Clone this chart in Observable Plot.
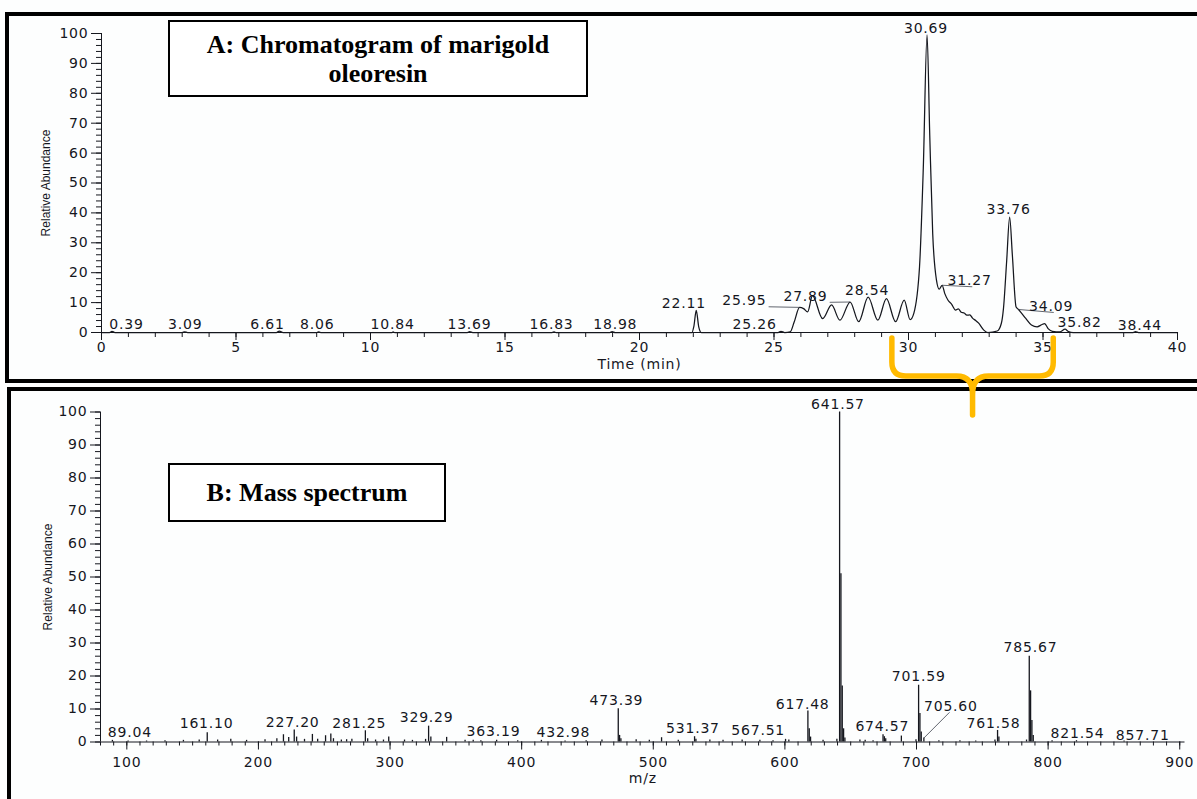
<!DOCTYPE html>
<html><head><meta charset="utf-8">
<script src="https://cdn.jsdelivr.net/npm/d3@7"></script>
<script src="https://cdn.jsdelivr.net/npm/@observablehq/plot@0.6"></script>
<style>
html,body{margin:0;padding:0;background:#fff;overflow:hidden;}
#page{position:relative;width:1197px;height:799px;overflow:hidden;background:#fdfefe;}
#page svg{position:absolute;left:0;overflow:visible;}
.frame{position:absolute;border:4px solid #000;border-right:none;box-sizing:border-box;}
.title{position:absolute;border:2px solid #000;box-sizing:border-box;background:#fff;font-family:"Liberation Serif",serif;font-weight:bold;font-size:26px;line-height:29px;text-align:center;display:flex;align-items:center;justify-content:center;color:#000;}
text[transform*="rotate"]{letter-spacing:0;}
</style></head>
<body><div id="page"></div>
<script>
// ---------- Panel A: chromatogram ----------
const chromTime = [0,0.3,0.39,0.5,3.0,3.09,3.2,6.5,6.61,6.75,8.0,8.06,8.15,10.8,10.84,10.9,13.6,13.69,13.8,16.75,16.83,16.9,18.9,18.98,19.1,21.95,22.02,22.11,22.2,22.3,23.5,25.15,25.26,25.4,25.6,25.75,25.95,26.1,26.25,26.43,26.81,27.14,27.45,27.83,28.15,28.5,28.86,29.18,29.52,29.84,30.06,30.2,30.41,30.55,30.69,30.79,30.9,31.04,31.14,31.25,31.35,31.47,31.6,31.75,31.85,31.96,32.07,32.17,32.28,32.38,32.5,32.6,32.8,32.95,33.3,33.45,33.53,33.65,33.76,33.86,34.0,34.09,34.2,34.36,34.57,34.78,34.95,35.06,35.2,35.35,35.63,35.82,35.95,36.12,38.35,38.44,38.55,40];
const chromAbundance = [0,0,0.4,0,0,0.2,0,0,0.5,0,0,0.2,0,0,0.2,0,0,0.3,0,0,0.2,0,0,0.3,0,0,2,7.4,2,0,0,0,0.4,0,0.2,3.5,8.4,8.0,6.9,12.3,4.6,9.2,4.1,10.2,3.6,11.8,4.1,11.3,3.6,10.8,4.3,6.5,22,55,99.5,66,33,17.5,14.5,15.8,13,10.8,9.5,7.5,7.9,6.8,6.5,5.8,5.9,4.8,4.0,3.2,0.8,0,0.5,3,8,24,38.6,26,8.5,7.7,6.5,4.7,2.5,1.9,2.6,3.0,1.2,0.4,0.2,1.1,0.3,0,0,0.3,0,0];
const chromLabels = ["0.39","3.09","6.61","8.06","10.84","13.69","16.83","18.98","22.11","25.95","25.26","27.89","28.54","30.69","31.27","33.76","34.09","35.82","38.44"];
const chromLabelTime = [0.93,3.11,6.17,8.02,10.82,13.68,16.73,19.1,21.65,23.9,24.28,26.17,28.46,30.65,32.27,33.72,35.3,36.36,38.6];
const chromLabelAbundance = [2.7,2.7,2.7,2.7,2.7,2.7,2.7,2.7,9.7,10.7,2.7,12.2,14.0,101.8,17.4,41.1,8.8,3.3,2.2];
const chromLeaderLabels = ["25.95","27.89","31.27","34.09"];
const timeTicks = [0,5,10,15,20,25,30,35,40];
const abundanceTicks = [0,10,20,30,40,50,60,70,80,90,100];
const bracketRange = [29.4, 35.4];

// ---------- Panel B: mass spectrum ----------
const specMz = [89.04,101,115,129,143,155,161.10,169,179,191,205,214,219,223,227.20,229,235,241,245,251,255,257,263,267,271,281.25,283,289,295,299,311,317,327,329.29,331,343,357,363.19,369,381,397,415,432.98,449,461,473.39,474.4,475.4,487,497,506.3,519,531.37,532.4,543,553,567.51,581,591,600.5,603,617.48,618.5,619.5,629,639.5,641.57,642.58,643.58,644.6,645.6,657,661,667,674.57,675.6,676.6,688.5,699.6,701.59,702.6,703.6,705.60,717,733,745,759.6,761.58,762.6,783.6,785.67,786.68,787.68,788.7,803,821.54,857.71];
const specAbundance = [0.5,0.3,0.3,0.4,0.5,0.6,2.8,0.6,0.8,0.5,0.7,1.0,2.2,1.4,3.6,1.5,0.8,2.3,0.8,1.9,2.4,1.0,0.6,0.7,0.8,3.4,1.0,0.6,0.6,1.5,0.6,0.5,0.8,4.8,1.5,1.4,0.5,0.5,0.4,0.5,0.4,0.5,0.3,0.4,0.6,10.1,2,1,0.7,0.5,1.3,0.5,1.6,0.8,0.6,0.5,0.6,0.5,0.4,0.8,0.6,9.4,4,1.5,0.5,0.8,100,51,17,4,1.2,0.6,0.5,0.4,2.2,1.6,1.0,1.8,0.7,17.2,8.6,3,1.2,0.4,0.4,0.3,0.6,3.5,1.5,0.6,26,15.5,6.5,2,0.4,0.4,0.3];
const specLabels = ["89.04","161.10","227.20","281.25","329.29","363.19","432.98","473.39","531.37","567.51","617.48","641.57","674.57","701.59","705.60","761.58","785.67","821.54","857.71"];
const specLabelMz = [102.3,160.6,226,276.6,327.8,378.6,431.7,472,530.1,579.7,613.5,640.3,674,701.7,726.1,758.5,786.6,822.3,871.9];
const specLabelAbundance = [2.9,5.6,5.9,5.6,7.4,3.2,2.9,12.6,4.1,3.5,11.4,102.3,4.7,19.8,10.8,5.6,28.6,2.6,2.0];
const specLeaderLabels = ["705.60"];
const mzTicks = [100,200,300,400,500,600,700,800,900];

const ink = "#15171e";
const baseStyle = {fontFamily: "DejaVu Sans", fontSize: "14px", letterSpacing: "0.8px", color: ink, background: "transparent", overflow: "visible"};

const chrom = chromTime.map((t, i) => ({t, a: chromAbundance[i]}));
const chromLab = chromLabels.map((s, i) => ({s, t: chromLabelTime[i], a: chromLabelAbundance[i]}));
const chromLeaders = chromLeaderLabels.map(L => {
  const i = chromLabels.indexOf(L);
  const rt = +L;
  const j = d3.minIndex(chromTime, t => Math.abs(t - rt));
  const left = chromLabelTime[i] < rt;
  return {
    x1: chromTime[j], y1: chromAbundance[j],
    x2: left ? chromLabelTime[i] + 0.9 : chromLabelTime[i] + 0.1,
    y2: left ? chromLabelAbundance[i] - 2.1 : chromLabelAbundance[i] - 2.1
  };
});

const plotA = Plot.plot({
  width: 1197, height: 380,
  marginLeft: 101, marginRight: 20, marginTop: 33, marginBottom: 48,
  x: {domain: [0, 40]},
  y: {domain: [0, 100]},
  style: baseStyle,
  marks: [
    Plot.axisY(d3.range(0, 101, 2), {tickSize: 5, tickFormat: () => "", label: null}),
    Plot.axisY(abundanceTicks, {tickSize: 10, tickPadding: 3, label: null}),
    Plot.axisX(d3.range(0, 41, 1), {tickSize: 5, tickFormat: () => "", label: null}),
    Plot.axisX(timeTicks, {tickSize: 8, tickPadding: 2, label: null}),
    Plot.ruleX([0], {y1: 0, y2: 100, stroke: ink}),
    Plot.ruleY([0], {stroke: ink}),
    Plot.line(chrom, {x: "t", y: "a", stroke: ink, strokeWidth: 1.25, curve: "monotone-x"}),
    Plot.link(chromLeaders, {x1: "x1", y1: "y1", x2: "x2", y2: "y2", stroke: "#3a3f4a", strokeWidth: 0.8}),
    Plot.text(chromLab, {x: "t", y: "a", text: "s", fill: ink}),
    Plot.text(["Time (min)"], {frameAnchor: "bottom", dy: 32, text: d => d, textAnchor: "middle", lineAnchor: "middle", fill: ink}),
    Plot.text(["Relative Abundance"], {frameAnchor: "left", dx: -55, rotate: -90, text: d => d, textAnchor: "middle", lineAnchor: "middle", fontSize: 12, fontFamily: "Liberation Sans", fill: ink})
  ]
});

const spec = specMz.map((m, i) => ({m, a: specAbundance[i]}));
const specLab = specLabels.map((s, i) => ({s, m: specLabelMz[i], a: specLabelAbundance[i]}));
const specLeaders = specLeaderLabels.map(L => {
  const i = specLabels.indexOf(L);
  const j = specMz.indexOf(+L);
  return {x1: specMz[j], y1: specAbundance[j], x2: specLabelMz[i] - 1, y2: specLabelAbundance[i] - 1.8};
});

const plotB = Plot.plot({
  width: 1197, height: 411,
  marginLeft: 100, marginRight: 12.5, marginTop: 23.5, marginBottom: 57.5,
  x: {domain: [80, 904]},
  y: {domain: [0, 100]},
  style: baseStyle,
  marks: [
    Plot.axisY(d3.range(0, 101, 2), {tickSize: 5, tickFormat: () => "", label: null}),
    Plot.axisY(abundanceTicks, {tickSize: 10, tickPadding: 3, label: null}),
    Plot.axisX(d3.range(80, 901, 10), {tickSize: 4, tickFormat: () => "", label: null}),
    Plot.axisX(mzTicks, {tickSize: 8, tickPadding: 7, label: null}),
    Plot.ruleX([80], {y1: 0, y2: 100, stroke: ink}),
    Plot.ruleY([0], {stroke: ink}),
    Plot.ruleX(spec, {x: "m", y1: 0, y2: "a", stroke: ink, strokeWidth: 1.3}),
    Plot.link(specLeaders, {x1: "x1", y1: "y1", x2: "x2", y2: "y2", stroke: "#3a3f4a", strokeWidth: 0.8}),
    Plot.text(specLab, {x: "m", y: "a", text: "s", fill: ink}),
    Plot.text(["m/z"], {frameAnchor: "bottom", dy: 36.5, text: d => d, textAnchor: "middle", lineAnchor: "middle", fill: ink}),
    Plot.text(["Relative Abundance"], {frameAnchor: "left", dx: -52, rotate: -90, text: d => d, textAnchor: "middle", lineAnchor: "middle", fontSize: 12, fontFamily: "Liberation Sans", fill: ink})
  ]
});

// ---------- assemble page ----------
const page = document.getElementById("page");
function addDiv(cls, css, html) {
  const d = document.createElement("div");
  d.className = cls;
  Object.assign(d.style, css);
  if (html) d.innerHTML = html;
  page.appendChild(d);
  return d;
}
plotA.style.top = "0px";
plotB.style.top = "388px";
page.appendChild(plotA);
page.appendChild(plotB);
addDiv("frame", {left: "5px", top: "12px", width: "1200px", height: "371px"});
addDiv("frame", {left: "7px", top: "387px", width: "1200px", height: "430px"});
addDiv("title", {left: "168px", top: "20px", width: "420px", height: "77px"}, "A: Chromatogram of marigold<br>oleoresin");
addDiv("title", {left: "168px", top: "463px", width: "278px", height: "59px"}, "B: Mass spectrum");

// bracket grouping the 29.4–35.4 min region of the chromatogram
const xA = plotA.scale("x");
const bx1 = xA.apply(bracketRange[0]), bx2 = xA.apply(bracketRange[1]);
const bm = (bx1 + bx2) / 2;
const overlay = d3.select(page).append("svg")
  .attr("width", 1197).attr("height", 799)
  .style("top", "0px").style("pointer-events", "none");
const path = d3.path();
path.moveTo(bx1, 338); path.lineTo(bx1, 362); path.quadraticCurveTo(bx1, 376, bx1 + 14, 376);
path.lineTo(bm - 16, 376); path.quadraticCurveTo(bm, 376, bm, 394); path.lineTo(bm, 415);
path.moveTo(bx2, 338); path.lineTo(bx2, 362); path.quadraticCurveTo(bx2, 376, bx2 - 14, 376);
path.lineTo(bm + 16, 376); path.quadraticCurveTo(bm, 376, bm, 394);
overlay.append("path").attr("d", path.toString())
  .attr("fill", "none").attr("stroke", "#FFBA00").attr("stroke-width", 5.5)
  .attr("stroke-linecap", "round").attr("stroke-linejoin", "round");
</script></body></html>
